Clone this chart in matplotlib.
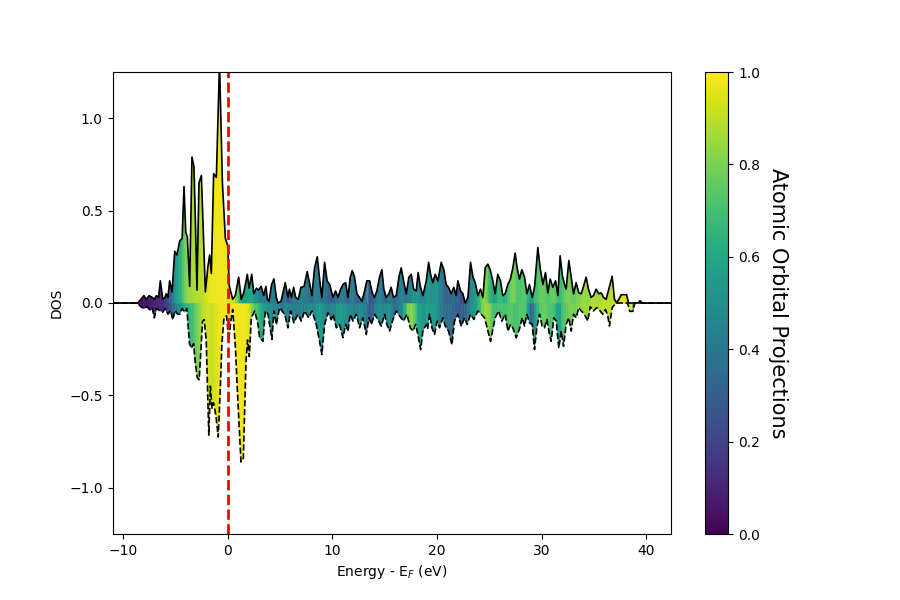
import matplotlib
matplotlib.use("Agg")
import matplotlib.pyplot as plt
from matplotlib.collections import PolyCollection
from matplotlib.colors import Normalize

# spin up: energy (eV), dos, projection
e_up = [-11.0, -8.6, -8.3, -8.0, -7.8, -7.5, -7.2, -7.0, -6.8, -6.6,
        -6.43, -6.2, -6.0, -5.86, -5.7, -5.54, -5.31, -5.06, -4.85, -4.58,
        -4.35, -4.17, -4.0, -3.85, -3.63, -3.41, -3.22, -3.07, -2.93, -2.74,
        -2.51, -2.35, -2.13, -1.88, -1.72, -1.56, -1.34, -1.08, -0.78, -0.5,
        -0.22, 0.0, 0.16, 0.48, 0.73, 1.05, 1.3, 1.55, 1.88, 2.05,
        2.3, 2.5, 2.75, 2.95, 3.2, 3.45, 3.65, 3.8, 3.95, 4.2,
        4.42, 4.65, 4.8, 5.1, 5.5, 5.76, 5.9, 6.1, 6.3, 6.5,
        6.75, 7.0, 7.3, 7.6, 7.85, 8.05, 8.3, 8.56, 8.8, 9.0,
        9.26, 9.5, 9.75, 10.06, 10.31, 10.54, 10.79, 11.01, 11.27, 11.49,
        11.71, 11.9, 12.12, 12.35, 12.6, 12.83, 13.08, 13.3, 13.56, 13.81,
        14.03, 14.25, 14.51, 14.73, 14.92, 15.14, 15.4, 15.62, 15.84, 16.1,
        16.36, 16.58, 16.8, 17.06, 17.31, 17.54, 17.76, 18.01, 18.2, 18.4,
        18.65, 18.97, 19.2, 19.38, 19.6, 19.82, 20.08, 20.4, 20.65, 20.87,
        21.1, 21.35, 21.6, 21.83, 21.99, 22.25, 22.47, 22.69, 22.95, 23.2,
        23.43, 23.65, 23.9, 24.15, 24.38, 24.6, 24.85, 25.08, 25.33, 25.55,
        25.8, 26.06, 26.28, 26.5, 26.76, 27.01, 27.24, 27.46, 27.65, 27.87,
        28.1, 28.36, 28.58, 28.83, 29.09, 29.31, 29.63, 29.85, 30.11, 30.36,
        30.58, 30.81, 31.06, 31.32, 31.54, 31.76, 31.95, 32.18, 32.33, 32.59,
        32.81, 33.04, 33.29, 33.54, 33.77, 33.99, 34.24, 34.47, 34.72, 34.94,
        35.2, 35.45, 35.68, 35.9, 36.15, 36.41, 36.73, 36.95, 37.17, 37.6,
        38.1, 38.3, 39.2, 39.4, 39.6, 42.3]
dos_up = [0.0, 0.0, 0.02, 0.04, 0.02, 0.04, 0.03, 0.02, 0.04, 0.03,
          0.12, 0.02, 0.03, 0.05, 0.03, 0.12, 0.06, 0.28, 0.26, 0.335,
          0.35, 0.63, 0.38, 0.36, 0.09, 0.79, 0.74, 0.42, 0.07, 0.65,
          0.69, 0.43, 0.06, 0.20, 0.26, 0.16, 0.70, 0.68, 1.30, 0.65,
          0.35, 0.31, 0.09, 0.02, 0.04, 0.14, 0.02, 0.06, 0.155, 0.08,
          0.155, 0.05, 0.08, 0.07, 0.09, 0.04, 0.09, 0.02, 0.01, 0.10,
          0.13, 0.03, 0.0, 0.01, 0.11, 0.03, 0.075, 0.03, 0.085, 0.03,
          0.02, 0.085, 0.09, 0.17, 0.10, 0.04, 0.19, 0.25, 0.12, 0.03,
          0.22, 0.12, 0.10, 0.03, 0.065, 0.03, 0.075, 0.10, 0.11, 0.03,
          0.14, 0.175, 0.14, 0.05, 0.03, 0.01, 0.065, 0.12, 0.12, 0.055,
          0.03, 0.065, 0.14, 0.18, 0.075, 0.03, 0.05, 0.085, 0.03, 0.04,
          0.14, 0.19, 0.12, 0.05, 0.14, 0.155, 0.075, 0.065, 0.165, 0.09,
          0.04, 0.12, 0.22, 0.155, 0.11, 0.155, 0.12, 0.22, 0.18, 0.10,
          0.085, 0.05, 0.085, 0.04, 0.12, 0.065, 0.05, 0.0, 0.03, 0.22,
          0.14, 0.11, 0.04, 0.075, 0.03, 0.19, 0.21, 0.18, 0.12, 0.05,
          0.155, 0.12, 0.04, 0.05, 0.10, 0.13, 0.19, 0.27, 0.19, 0.13,
          0.18, 0.14, 0.05, 0.10, 0.03, 0.085, 0.30, 0.19, 0.10, 0.165,
          0.055, 0.13, 0.085, 0.12, 0.04, 0.255, 0.155, 0.10, 0.075, 0.23,
          0.14, 0.05, 0.11, 0.055, 0.05, 0.09, 0.14, 0.075, 0.03, 0.04,
          0.075, 0.05, 0.055, 0.03, 0.02, 0.075, 0.145, 0.02, 0.0, 0.045,
          0.045, 0.0, 0.0, 0.012, 0.0, 0.0]
proj_up = [0.05, 0.05, 0.05, 0.06, 0.06, 0.07, 0.07, 0.08, 0.1, 0.1,
           0.12, 0.12, 0.15, 0.18, 0.22, 0.28, 0.35, 0.5, 0.55, 0.6,
           0.68, 0.75, 0.8, 0.82, 0.85, 0.86, 0.87, 0.87, 0.88, 0.88,
           0.89, 0.9, 0.92, 0.95, 0.96, 0.97, 0.97, 0.98, 0.98, 0.98,
           0.98, 0.97, 0.95, 0.93, 0.9, 0.7, 0.6, 0.55, 0.55, 0.6,
           0.6, 0.55, 0.5, 0.45, 0.42, 0.38, 0.45, 0.4, 0.35, 0.42,
           0.45, 0.38, 0.32, 0.3, 0.4, 0.3, 0.25, 0.32, 0.38, 0.42,
           0.38, 0.45, 0.42, 0.4, 0.35, 0.3, 0.42, 0.45, 0.38, 0.35,
           0.42, 0.35, 0.28, 0.3, 0.35, 0.42, 0.38, 0.45, 0.35, 0.3,
           0.4, 0.45, 0.38, 0.32, 0.3, 0.28, 0.35, 0.42, 0.3, 0.22,
           0.3, 0.38, 0.45, 0.42, 0.35, 0.3, 0.38, 0.42, 0.35, 0.3,
           0.4, 0.45, 0.42, 0.38, 0.42, 0.45, 0.5, 0.55, 0.5, 0.45,
           0.42, 0.5, 0.55, 0.5, 0.45, 0.55, 0.5, 0.42, 0.35, 0.3,
           0.3, 0.32, 0.35, 0.3, 0.35, 0.25, 0.2, 0.2, 0.3, 0.45,
           0.5, 0.55, 0.6, 0.7, 0.8, 0.85, 0.75, 0.65, 0.6, 0.55,
           0.65, 0.7, 0.65, 0.6, 0.7, 0.75, 0.8, 0.78, 0.72, 0.7,
           0.72, 0.75, 0.7, 0.6, 0.55, 0.65, 0.72, 0.75, 0.78, 0.75,
           0.7, 0.75, 0.78, 0.75, 0.7, 0.65, 0.7, 0.75, 0.78, 0.8,
           0.78, 0.75, 0.78, 0.8, 0.82, 0.85, 0.85, 0.82, 0.85, 0.88,
           0.88, 0.85, 0.88, 0.9, 0.9, 0.88, 0.9, 0.92, 0.92, 0.95,
           0.95, 0.9, 0.9, 0.95, 0.1, 0.05]

# spin down
e_dn = [-11.0, -8.6, -8.3, -8.0, -7.7, -7.4, -7.2, -7.0, -6.8, -6.5,
        -6.2, -6.0, -5.7, -5.45, -5.25, -5.0, -4.8, -4.6, -4.35, -4.1,
        -3.9, -3.65, -3.45, -3.25, -3.1, -2.9, -2.72, -2.55, -2.4, -2.25,
        -2.05, -1.8, -1.65, -1.5, -1.35, -1.12, -0.9, -0.7, -0.55, -0.35,
        -0.1, 0.1, 0.3, 0.48, 0.73, 0.95, 1.27, 1.5, 1.75, 1.9,
        2.07, 2.26, 2.58, 2.9, 3.05, 3.37, 3.6, 3.85, 4.23, 4.42,
        4.65, 4.96, 5.44, 5.76, 6.01, 6.33, 6.71, 7.03, 7.35, 7.73,
        8.05, 8.46, 8.78, 9.0, 9.26, 9.58, 9.9, 10.06, 10.38, 10.69,
        11.01, 11.27, 11.49, 11.71, 11.97, 12.29, 12.6, 12.92, 13.24, 13.5,
        13.72, 14.04, 14.35, 14.67, 14.99, 15.21, 15.47, 15.79, 16.1, 16.42,
        16.8, 17.12, 17.44, 17.7, 17.95, 18.17, 18.43, 18.65, 18.97, 19.1,
        19.29, 19.51, 19.76, 20.02, 20.24, 20.56, 20.78, 21.1, 21.42, 21.67,
        21.99, 22.31, 22.63, 22.88, 23.2, 23.52, 23.9, 24.22, 24.54, 24.86,
        25.11, 25.33, 25.56, 25.87, 26.19, 26.51, 26.77, 27.02, 27.24, 27.56,
        27.88, 28.13, 28.36, 28.58, 28.83, 29.09, 29.31, 29.53, 29.79, 30.04,
        30.27, 30.49, 30.74, 30.9, 31.16, 31.38, 31.63, 31.86, 32.08, 32.33,
        32.59, 32.81, 33.04, 33.29, 33.54, 33.77, 34.09, 34.4, 34.63, 34.94,
        35.26, 35.58, 35.84, 36.09, 36.31, 36.47, 36.73, 36.95, 37.17, 38.2,
        38.4, 38.7, 38.9, 42.3]
dos_dn = [0.0, 0.0, -0.02, -0.03, -0.02, -0.04, -0.03, -0.08, -0.03, -0.04,
          -0.05, -0.03, -0.06, -0.04, -0.09, -0.04, -0.06, -0.06, -0.03, -0.05,
          -0.03, -0.22, -0.245, -0.22, -0.32, -0.405, -0.415, -0.25, -0.1, -0.09,
          -0.2, -0.715, -0.45, -0.57, -0.54, -0.61, -0.725, -0.46, -0.22, -0.08,
          -0.07, -0.2, -0.1, -0.035, -0.23, -0.5, -0.86, -0.84, -0.32, -0.2,
          -0.29, -0.08, -0.043, -0.116, -0.188, -0.207, -0.043, -0.061, -0.197, -0.043,
          -0.116, -0.025, -0.061, -0.134, -0.043, -0.107, -0.061, -0.098, -0.043, -0.08,
          -0.043, -0.116, -0.207, -0.279, -0.116, -0.053, -0.09, -0.061, -0.134, -0.116,
          -0.188, -0.116, -0.152, -0.061, -0.098, -0.061, -0.134, -0.08, -0.17, -0.08,
          -0.116, -0.061, -0.089, -0.125, -0.061, -0.116, -0.152, -0.089, -0.043, -0.07,
          -0.098, -0.061, -0.134, -0.152, -0.116, -0.17, -0.252, -0.152, -0.116, -0.14,
          -0.061, -0.134, -0.17, -0.098, -0.134, -0.08, -0.125, -0.152, -0.225, -0.098,
          -0.061, -0.125, -0.08, -0.116, -0.061, -0.089, -0.043, -0.061, -0.08, -0.152,
          -0.207, -0.143, -0.08, -0.043, -0.098, -0.061, -0.152, -0.116, -0.134, -0.188,
          -0.14, -0.08, -0.125, -0.061, -0.107, -0.116, -0.252, -0.134, -0.061, -0.125,
          -0.134, -0.089, -0.17, -0.207, -0.08, -0.098, -0.245, -0.152, -0.235, -0.116,
          -0.08, -0.152, -0.061, -0.08, -0.025, -0.043, -0.061, -0.098, -0.02, -0.043,
          -0.025, -0.043, -0.061, -0.035, -0.07, -0.125, -0.025, -0.01, 0.0, 0.0,
          -0.045, -0.045, 0.0, 0.0]
proj_dn = [0.05, 0.05, 0.05, 0.06, 0.06, 0.07, 0.07, 0.08, 0.08, 0.1,
           0.12, 0.15, 0.2, 0.25, 0.3, 0.4, 0.45, 0.5, 0.55, 0.6,
           0.62, 0.65, 0.68, 0.7, 0.75, 0.8, 0.82, 0.85, 0.88, 0.9,
           0.92, 0.93, 0.93, 0.9, 0.92, 0.95, 0.96, 0.97, 0.98, 0.98,
           0.98, 0.98, 0.98, 0.98, 0.98, 0.98, 0.98, 0.98, 0.97, 0.96,
           0.95, 0.85, 0.75, 0.7, 0.65, 0.6, 0.5, 0.5, 0.52, 0.45,
           0.5, 0.4, 0.42, 0.5, 0.4, 0.45, 0.38, 0.48, 0.4, 0.5,
           0.45, 0.5, 0.55, 0.55, 0.48, 0.4, 0.45, 0.42, 0.5, 0.55,
           0.55, 0.48, 0.5, 0.42, 0.5, 0.4, 0.5, 0.45, 0.42, 0.3,
           0.28, 0.38, 0.5, 0.5, 0.42, 0.5, 0.52, 0.42, 0.35, 0.42,
           0.5, 0.75, 0.85, 0.8, 0.75, 0.6, 0.55, 0.55, 0.55, 0.55,
           0.55, 0.55, 0.55, 0.5, 0.45, 0.4, 0.35, 0.35, 0.35, 0.3,
           0.3, 0.3, 0.3, 0.35, 0.5, 0.5, 0.6, 0.75, 0.85, 0.85,
           0.8, 0.7, 0.7, 0.7, 0.72, 0.7, 0.72, 0.75, 0.72, 0.7,
           0.72, 0.75, 0.72, 0.7, 0.45, 0.25, 0.5, 0.6, 0.72, 0.75,
           0.78, 0.75, 0.72, 0.7, 0.75, 0.6, 0.5, 0.65, 0.72, 0.75,
           0.78, 0.8, 0.78, 0.8, 0.82, 0.85, 0.85, 0.85, 0.88, 0.88,
           0.88, 0.88, 0.9, 0.9, 0.9, 0.9, 0.92, 0.92, 0.9, 0.95,
           0.95, 0.95, 0.1, 0.05]


def strips(e, d, p):
    verts = []
    vals = []
    for i in range(len(e) - 1):
        verts.append([(e[i], 0), (e[i], d[i]), (e[i + 1], d[i + 1]), (e[i + 1], 0)])
        vals.append(0.5 * (p[i] + p[i + 1]))
    return verts, vals


fig, ax = plt.subplots(figsize=(9, 6), dpi=100)
norm = Normalize(0, 1)

v_up, c_up = strips(e_up, dos_up, proj_up)
v_dn, c_dn = strips(e_dn, dos_dn, proj_dn)
pc_up = PolyCollection(v_up, array=c_up, cmap="viridis", norm=norm,
                       edgecolors="face", linewidths=0.4)
pc_dn = PolyCollection(v_dn, array=c_dn, cmap="viridis", norm=norm,
                       edgecolors="face", linewidths=0.4)
ax.add_collection(pc_dn)
ax.add_collection(pc_up)

ax.plot(e_up, dos_up, "k-", linewidth=1.2)
ax.plot(e_dn, dos_dn, "k--", linewidth=1.2)
ax.axvline(0, color="r", linestyle="--", linewidth=2)

ax.set_xlim(-11, 42.3)
ax.set_ylim(-1.25, 1.25)
ax.set_yticks([-1.0, -0.5, 0.0, 0.5, 1.0])
ax.set_xlabel("Energy - E$_F$ (eV)")
ax.set_ylabel("DOS")

cb = fig.colorbar(pc_up, ax=ax)
cb.set_label("Atomic Orbital Projections", rotation=270, fontsize=15, labelpad=20)

fig.savefig("out.png", dpi=100)
